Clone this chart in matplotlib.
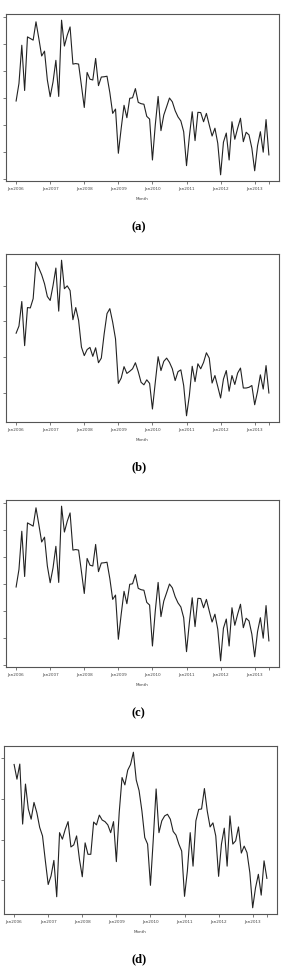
import numpy as np
import matplotlib
matplotlib.use('Agg')
import matplotlib.pyplot as plt

# monthly series, Jan2006 .. Jun2013 (90 points)
series_a = [28.9, 35.4, 49.6, 32.8, 52.7, 52.1, 51.5, 58.3, 52.1, 45.6,
            47.4, 36.7, 30.5, 36.0, 44.0, 30.6, 58.9, 49.3, 53.3, 56.4,
            42.6, 42.8, 42.6, 34.6, 26.5, 39.5, 37.0, 36.7, 44.7, 34.6,
            37.8, 37.9, 38.1, 32.0, 24.3, 25.9, 9.5, 18.8, 27.3, 22.7,
            29.9, 30.1, 33.5, 28.4, 27.9, 27.7, 23.2, 22.2, 7.0, 20.0,
            30.6, 17.9, 23.7, 26.8, 30.0, 28.6, 25.3, 23.0, 21.5, 17.5,
            4.9, 15.7, 24.9, 14.2, 24.7, 24.6, 21.2, 24.3, 20.0, 15.9,
            18.8, 13.2, 1.5, 13.6, 17.0, 7.0, 21.2, 14.7, 18.8, 22.5,
            13.8, 17.3, 16.3, 11.4, 3.0, 12.3, 17.5, 9.9, 22.0, 8.9]

series_b = [16.7, 18.7, 25.6, 13.2, 23.9, 23.8, 26.4, 36.7, 35.0, 33.1,
            30.6, 27.0, 25.9, 30.1, 35.0, 22.9, 37.2, 29.2, 30.0, 28.7,
            20.5, 23.9, 20.3, 12.8, 10.4, 12.1, 12.7, 10.2, 12.6, 8.4,
            9.7, 16.5, 22.2, 23.6, 19.8, 15.1, 2.6, 4.1, 7.3, 5.4,
            6.0, 6.7, 8.4, 5.9, 2.9, 2.2, 3.6, 2.6, -4.6, 2.9,
            10.1, 6.2, 8.8, 9.7, 8.5, 6.7, 3.4, 5.9, 6.4, 2.0,
            -6.5, -0.8, 7.4, 3.1, 8.1, 6.7, 8.5, 11.2, 9.7, 2.7,
            4.8, 1.7, -1.5, 3.8, 6.2, 0.4, 4.8, 2.3, 5.5, 6.9,
            1.3, 1.3, 1.5, 2.0, -3.4, 0.3, 5.0, 1.0, 7.6, -0.1]

series_c = [28.9, 35.4, 49.6, 32.8, 52.7, 52.1, 51.5, 58.3, 52.1, 45.6,
            47.4, 36.7, 30.5, 36.0, 44.0, 30.6, 58.9, 49.3, 53.3, 56.4,
            42.6, 42.8, 42.6, 34.6, 26.5, 39.5, 37.0, 36.7, 44.7, 34.6,
            37.8, 37.9, 38.1, 32.0, 24.3, 25.9, 9.5, 18.8, 27.3, 22.7,
            29.9, 30.1, 33.5, 28.4, 27.9, 27.7, 23.2, 22.2, 7.0, 20.0,
            30.6, 17.9, 23.7, 26.8, 30.0, 28.6, 25.3, 23.0, 21.5, 17.5,
            4.9, 15.7, 24.9, 14.2, 24.7, 24.6, 21.2, 24.3, 20.0, 15.9,
            18.8, 13.2, 1.5, 13.6, 17.0, 7.0, 21.2, 14.7, 18.8, 22.5,
            13.8, 17.3, 16.3, 11.4, 3.0, 12.3, 17.5, 9.9, 22.0, 8.9]

series_d = [28.4, 24.8, 28.5, 13.8, 23.6, 17.5, 15.0, 19.1, 16.6, 13.0,
            10.9, 4.8, -1.0, 1.1, 4.9, -4.0, 11.7, 10.1, 12.5, 14.4,
            8.2, 8.7, 10.9, 5.2, 0.9, 9.2, 6.4, 6.4, 14.3, 13.6,
            16.0, 14.8, 14.4, 13.6, 11.7, 14.4, 4.6, 16.6, 25.2, 23.4,
            27.0, 28.4, 31.4, 24.6, 22.0, 17.0, 10.5, 8.9, -1.2, 10.1,
            22.4, 11.7, 14.6, 15.8, 16.2, 15.0, 12.0, 11.1, 8.9, 7.2,
            -3.9, 2.3, 11.7, 3.5, 14.6, 17.4, 17.5, 22.5, 17.0, 13.1,
            14.1, 10.9, 1.0, 8.9, 12.8, 3.5, 15.8, 8.9, 9.7, 13.1,
            6.7, 8.4, 6.8, 1.9, -6.7, -1.8, 1.5, -3.6, 4.8, 0.5]

yticks_a = [0, 10, 20, 30, 40, 50, 60]
yticks_b = [0, 10, 20, 30]
yticks_d = [0, 10, 20, 30]

tick_months = [0, 12, 24, 36, 48, 60, 72, 84, 89]
tick_labels = ['Jan2006', 'Jan2007', 'Jan2008', 'Jan2009', 'Jan2010',
               'Jan2011', 'Jan2012', 'Jan2013', '']
captions = ['(a)', '(b)', '(c)', '(d)']

W, H = 283, 971
fig = plt.figure(figsize=(W / 100, H / 100), dpi=100)

# (left, top, right, bottom) in pixels, caption y in pixels
boxes = [(6, 14, 279, 181, 227),
         (6, 254, 279, 422, 467),
         (6, 500, 279, 667, 713),
         (4, 746, 277, 914, 959)]
panels = [(series_a, yticks_a), (series_b, yticks_b),
          (series_c, yticks_a), (series_d, yticks_d)]

months = np.arange(len(series_a))
for (l, t, r, b, cy), (vals, yt), cap in zip(boxes, panels, captions):
    ax = fig.add_axes([l / W, 1 - b / H, (r - l) / W, (b - t) / H])
    ax.plot(months, vals, color='#222222', lw=0.8)
    ax.margins(x=0.04, y=0.04)
    ax.set_xticks(tick_months)
    ax.set_xticklabels(tick_labels, fontsize=3, color='#444444')
    ax.set_yticks(yt)
    ax.set_yticklabels([])
    ax.tick_params(length=2, width=0.5, color='#444444', pad=2.5)
    for s in ax.spines.values():
        s.set_color('#555555')
        s.set_linewidth(0.8)
    ax.set_xlabel('Month', fontsize=3, color='#444444', labelpad=4)
    fig.text(0.49, 1 - cy / H, cap, ha='center', va='center',
             fontsize=9, fontweight='bold', family='Liberation Serif')

fig.savefig('out.png', dpi=100)
